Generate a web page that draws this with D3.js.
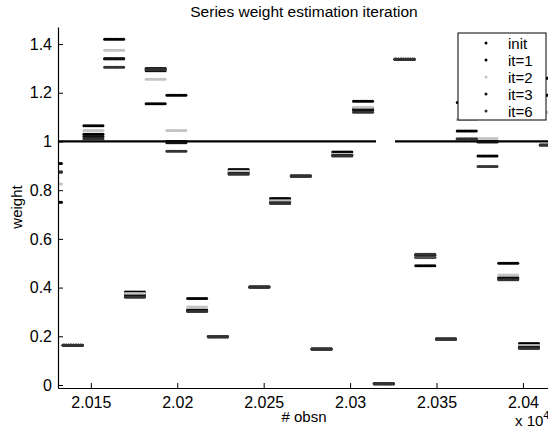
<!DOCTYPE html>
<html>
<head>
<meta charset="utf-8">
<script src="https://cdn.jsdelivr.net/npm/d3@7"></script>
<style>
  body { margin: 0; background: #fff; }
  svg { display: block; font-family: "Liberation Sans", Arial, sans-serif; }
</style>
</head>
<body>
<svg id="chart"></svg>
<script>
const width = 548;
const height = 433;

// First observation of each 12-observation block
const groupStart = [20122, 20134, 20146, 20158, 20170, 20182, 20194, 20206, 20218,
    20230, 20242, 20254, 20266, 20278, 20290, 20302, 20314, 20326, 20338, 20350,
    20362, 20374, 20386, 20398, 20410];
const obsPerGroup = 12;

// Weight per block for each iteration
const init = [0.75, 0.163, 1.065, 1.42, 0.382, 1.155, 1.19, 0.355, 0.198, 0.885, 0.402, 0.766, 0.858,
    0.148, 0.957, 1.165, 0.005, 1.338, 0.49, 0.189, 1.16, 0.94, 0.5, 0.17, 1.26];
const it1 = [0.91, 0.163, 1.03, 1.34, 0.372, 1.30, 1.0, 0.308, 0.198, 0.875, 0.402, 0.755, 0.858,
    0.148, 0.946, 1.135, 0.005, 1.338, 0.525, 0.189, 1.043, 1.0, 0.44, 0.16, 1.19];
const it2 = [0.825, 0.163, 1.045, 1.375, 0.376, 1.255, 1.045, 0.32, 0.198, 0.878, 0.402, 0.757, 0.858,
    0.148, 0.948, 1.14, 0.005, 1.338, 0.53, 0.189, 1.09, 1.012, 0.452, 0.162, 1.12];
const it3 = [0.875, 0.163, 1.02, 1.34, 0.365, 1.29, 0.995, 0.305, 0.198, 0.868, 0.402, 0.748, 0.858,
    0.148, 0.942, 1.128, 0.005, 1.338, 0.533, 0.189, 1.01, 0.998, 0.436, 0.155, 0.985];
const it6 = [0.875, 0.163, 1.01, 1.305, 0.36, 1.295, 0.96, 0.302, 0.198, 0.865, 0.402, 0.745, 0.858,
    0.148, 0.94, 1.12, 0.005, 1.338, 0.537, 0.189, 1.01, 0.897, 0.432, 0.15, 0.985];

const seriesNames = ["init", "it=1", "it=2", "it=3", "it=6"];
const seriesValues = [init, it1, it2, it3, it6];
const seriesColors = ["#000000", "#000000", "#c4c4c4", "#111111", "#333333"];

// Reference line at weight 1 (broken around one block)
const refValue = 1;
const refSegments = [[20130, 20315], [20326, 20416]];

const xTicks = [20150, 20200, 20250, 20300, 20350, 20400];
const yTicks = [0, 0.2, 0.4, 0.6, 0.8, 1, 1.2, 1.4];

const margin = { left: 58, right: 0, top: 27, bottom: 45 };

const x = d3.scaleLinear()
    .domain([20131, 20414.5])
    .range([margin.left, width - margin.right]);

const y = d3.scaleLinear()
    .domain([-0.0123, 1.47])
    .range([height - margin.bottom, margin.top]);

const svg = d3.select("#chart")
    .attr("width", width)
    .attr("height", height);

svg.append("defs").append("clipPath")
    .attr("id", "plotClip")
    .append("rect")
    .attr("x", margin.left)
    .attr("y", margin.top)
    .attr("width", width - margin.left - margin.right)
    .attr("height", height - margin.top - margin.bottom);

const plot = svg.append("g").attr("clip-path", "url(#plotClip)");

// Reference line
const line = d3.line()
    .x(d => x(d))
    .y(() => y(refValue));

plot.selectAll(".ref")
    .data(refSegments)
    .enter()
    .append("path")
    .attr("class", "ref")
    .attr("d", d => line(d))
    .attr("stroke", "#000")
    .attr("stroke-width", 2.2)
    .attr("fill", "none");

// Dots: one per observation, blocks share a value
seriesValues.forEach((vals, si) => {
    const pts = [];
    groupStart.forEach((s, gi) => {
        for (let j = 0; j < obsPerGroup; j++) {
            pts.push({ obs: s + j, w: vals[gi] });
        }
    });
    plot.append("g")
        .selectAll("circle")
        .data(pts)
        .enter()
        .append("circle")
        .attr("cx", d => x(d.obs))
        .attr("cy", d => y(d.w))
        .attr("r", 1.5)
        .attr("fill", seriesColors[si]);
});

// Axes (MATLAB style ticks pointing inward)
const xAxis = svg.append("g")
    .attr("transform", `translate(0,${height - margin.bottom})`)
    .call(d3.axisBottom(x)
        .tickValues(xTicks)
        .tickSizeInner(-5)
        .tickSizeOuter(0)
        .tickPadding(9)
        .tickFormat(d => d3.format("")(+(d / 10000).toFixed(3))));

const yAxis = svg.append("g")
    .attr("transform", `translate(${margin.left},0)`)
    .call(d3.axisLeft(y)
        .tickValues(yTicks)
        .tickSizeInner(-5)
        .tickSizeOuter(0)
        .tickPadding(6)
        .tickFormat(d => d3.format("")(+d.toFixed(1))));

[xAxis, yAxis].forEach(ax => {
    ax.select(".domain").attr("stroke", "#000").attr("stroke-width", 1.2);
    ax.selectAll(".tick line").attr("stroke", "#000");
    ax.selectAll(".tick text")
        .attr("fill", "#000")
        .style("font-size", "16px")
        .style("font-family", "'Liberation Sans', Arial, sans-serif");
});

// Title and labels
svg.append("text")
    .attr("x", 304)
    .attr("y", 17)
    .attr("text-anchor", "middle")
    .style("font-size", "15.5px")
    .text("Series weight estimation iteration");

svg.append("text")
    .attr("x", 304)
    .attr("y", 422)
    .attr("text-anchor", "middle")
    .style("font-size", "15px")
    .text("# obsn");

svg.append("text")
    .attr("transform", "translate(22,207) rotate(-90)")
    .attr("text-anchor", "middle")
    .style("font-size", "15px")
    .text("weight");

const expo = svg.append("text")
    .attr("x", 515)
    .attr("y", 426)
    .style("font-size", "15px");
expo.append("tspan").text("x 10");
expo.append("tspan").attr("dy", -7).style("font-size", "11px").text("4");

// Legend
const legend = svg.append("g").attr("transform", "translate(458,33)");
legend.append("rect")
    .attr("width", 88)
    .attr("height", 87)
    .attr("fill", "#fff")
    .attr("stroke", "#000")
    .attr("stroke-width", 1);

seriesNames.forEach((name, i) => {
    const row = legend.append("g").attr("transform", `translate(0,${10 + i * 17})`);
    row.append("circle")
        .attr("cx", 28)
        .attr("cy", 0)
        .attr("r", 1.5)
        .attr("fill", seriesColors[i]);
    row.append("text")
        .attr("x", 50)
        .attr("y", 5.5)
        .style("font-size", "15px")
        .text(name);
});
</script>
</body>
</html>
